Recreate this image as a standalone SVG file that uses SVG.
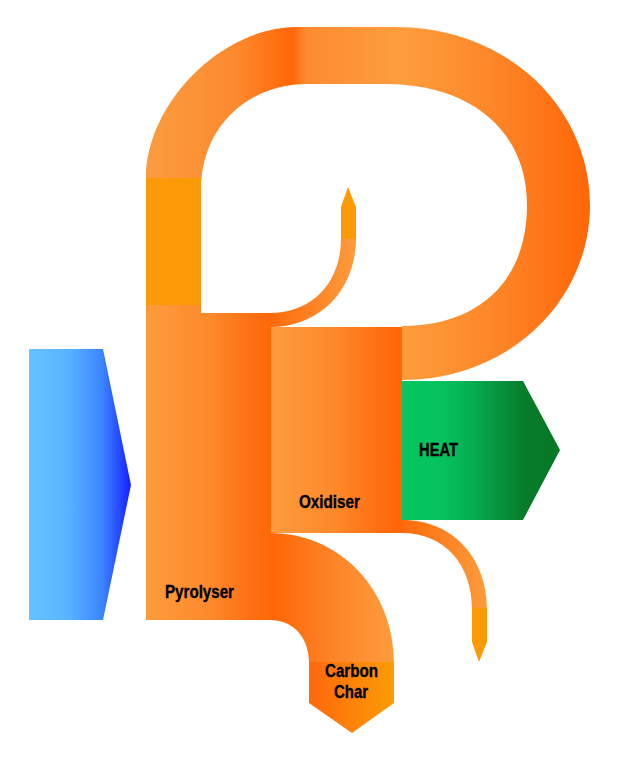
<svg xmlns="http://www.w3.org/2000/svg" width="637" height="770" viewBox="0 0 637 770">
<defs>
<linearGradient id="gBlue" gradientUnits="userSpaceOnUse" x1="29" y1="0" x2="131" y2="0">
<stop offset="0" stop-color="#66c4ff"/><stop offset="0.4" stop-color="#58b2ff"/><stop offset="0.72" stop-color="#3c84ff"/><stop offset="1" stop-color="#1420ff"/>
</linearGradient>
<linearGradient id="gPyro" gradientUnits="userSpaceOnUse" x1="146" y1="0" x2="272" y2="0">
<stop offset="0" stop-color="#fd9c3c"/><stop offset="0.5" stop-color="#fd8a2c"/><stop offset="0.85" stop-color="#fe6e12"/><stop offset="1" stop-color="#ff6808"/>
</linearGradient>
<linearGradient id="gOxi" gradientUnits="userSpaceOnUse" x1="272" y1="0" x2="402" y2="0">
<stop offset="0" stop-color="#fd9c3c"/><stop offset="0.5" stop-color="#fd882a"/><stop offset="0.85" stop-color="#ff6c10"/><stop offset="1" stop-color="#ff6604"/>
</linearGradient>
<linearGradient id="gLoop" gradientUnits="userSpaceOnUse" x1="146" y1="0" x2="590" y2="0">
<stop offset="0" stop-color="#fb9c40"/><stop offset="0.2" stop-color="#fd8a2e"/><stop offset="0.33" stop-color="#ff6606"/><stop offset="0.36" stop-color="#fd8a30"/><stop offset="0.57" stop-color="#fd9e3e"/><stop offset="0.8" stop-color="#fd8426"/><stop offset="1" stop-color="#ff6606"/>
</linearGradient>
<linearGradient id="gTopArc" gradientUnits="userSpaceOnUse" x1="270" y1="0" x2="356" y2="0">
<stop offset="0" stop-color="#ff6a0a"/><stop offset="1" stop-color="#fd9c3c"/>
</linearGradient>
<linearGradient id="gBotArc" gradientUnits="userSpaceOnUse" x1="402" y1="0" x2="487" y2="0">
<stop offset="0" stop-color="#ff6a0a"/><stop offset="1" stop-color="#fd9c3c"/>
</linearGradient>
<linearGradient id="gCharArc" gradientUnits="userSpaceOnUse" x1="272" y1="0" x2="394" y2="0">
<stop offset="0" stop-color="#ff6606"/><stop offset="0.5" stop-color="#fd8428"/><stop offset="1" stop-color="#fd9c3c"/>
</linearGradient>
<linearGradient id="gChar" gradientUnits="userSpaceOnUse" x1="309" y1="0" x2="394" y2="0">
<stop offset="0" stop-color="#ff680c"/><stop offset="1" stop-color="#fc9c06"/>
</linearGradient>
<linearGradient id="gHeat" gradientUnits="userSpaceOnUse" x1="402" y1="0" x2="560" y2="0">
<stop offset="0" stop-color="#05c660"/><stop offset="0.25" stop-color="#05c25e"/><stop offset="0.45" stop-color="#06ac50"/><stop offset="0.65" stop-color="#088e3a"/><stop offset="0.77" stop-color="#077c2a"/><stop offset="1" stop-color="#067826"/>
</linearGradient>
</defs>
<style>
.lbl{font-family:"Liberation Sans",Arial,sans-serif;font-weight:bold;font-size:18px;fill:#000;stroke:#000;stroke-width:0.35px;}
.amber{fill:#fb9a06;}
</style>
<g id="connectors">
<path id="recycle-loop" fill="url(#gLoop)" d="M146 305 L146 178 C146 105 220 27 297 27 L395 27 C510 27 590 110 590 205 C590 300 510 380 402 380 L402 326 C480 326 527 280 527 205 C527 130 470 84 385 84 L307 84 C250 84 201 125 201 190 L201 305 Z"/>
<rect class="amber" x="146" y="178" width="55" height="127"/>
<g id="oxidiser-feed">
<path fill="url(#gTopArc)" d="M270 327 C320 327 356 290 356 238 L341 238 C341 285 310 313 270 313 Z"/>
<path class="amber" d="M341 239 L341 207 L348 187 L356 207 L356 239 Z"/>
</g>
<g id="side-stream">
<path fill="url(#gBotArc)" d="M402 520 C455 520 487 560 487 609 L472 609 C472 565 445 533 402 533 Z"/>
<path class="amber" d="M472 608 L487 608 L487 642 L479 662 L472 642 Z"/>
</g>
<path id="char-flow" fill="url(#gCharArc)" d="M270 533 C340 533 394 590 394 663 L309 663 C309 637 293 620 270 620 Z"/>
</g>
<g id="feed">
<path fill="url(#gBlue)" d="M29 349 L103 349 L131 485 L103 620 L29 620 Z"/>
</g>
<g id="pyrolyser">
<path fill="url(#gPyro)" d="M146 305 L201 305 L201 313 L272 313 L272 620 L146 620 Z"/>
<text class="lbl" x="165" y="598" textLength="69" lengthAdjust="spacingAndGlyphs">Pyrolyser</text>
</g>
<g id="oxidiser">
<rect fill="url(#gOxi)" x="271" y="327" width="131" height="206"/>
<text class="lbl" x="299" y="508" textLength="61" lengthAdjust="spacingAndGlyphs">Oxidiser</text>
</g>
<g id="heat">
<path fill="url(#gHeat)" d="M402 381 L523 381 L560 450 L523 520 L402 520 Z"/>
<text class="lbl" x="419" y="456" textLength="39" lengthAdjust="spacingAndGlyphs">HEAT</text>
</g>
<g id="carbon-char">
<path fill="url(#gChar)" d="M309 662 L394 662 L394 703 L352 733 L309 703 Z"/>
<text class="lbl" x="325" y="677" textLength="53" lengthAdjust="spacingAndGlyphs">Carbon</text>
<text class="lbl" x="334" y="698" textLength="34" lengthAdjust="spacingAndGlyphs">Char</text>
</g>
</svg>
